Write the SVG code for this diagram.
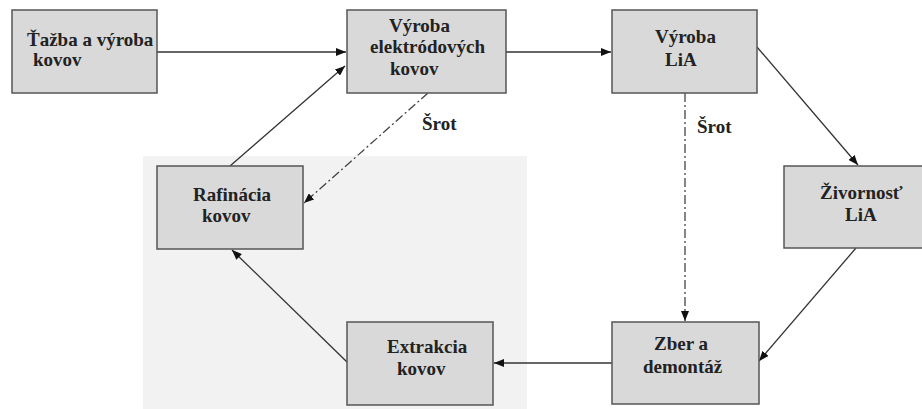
<svg xmlns="http://www.w3.org/2000/svg" width="922" height="409" viewBox="0 0 922 409">
<defs>
<marker id="ah" viewBox="0 0 10 8" refX="10" refY="4" markerWidth="10" markerHeight="8" markerUnits="userSpaceOnUse" orient="auto">
<path d="M0,0 L10,4 L0,8 Z" fill="#111"/>
</marker>
</defs>
<style>
.box{fill:#d9d9d9;stroke:#555;stroke-width:1.5}
.t{font-weight:bold;font-size:19px;fill:#222}
.c{fill:none;stroke:#333;stroke-width:1.3;marker-end:url(#ah)}
.d{fill:none;stroke:#444;stroke-width:1.3;stroke-dasharray:9,3,2,3;marker-end:url(#ah)}
</style>
<rect width="922" height="409" fill="#ffffff"/>
<rect x="143" y="156" width="384" height="253" fill="#f2f2f2"/>
<g id="connectors">
<line class="c" x1="157" y1="52" x2="346" y2="52"/>
<line class="c" x1="230" y1="166" x2="345" y2="66"/>
<line class="c" x1="506" y1="52" x2="611" y2="52"/>
<line class="c" x1="757" y1="47" x2="858" y2="165"/>
<line class="c" x1="856" y1="248" x2="759" y2="361"/>
<line class="c" x1="612" y1="363" x2="494" y2="363"/>
<line class="c" x1="347" y1="362" x2="232" y2="250"/>
<line class="d" x1="428" y1="93" x2="304" y2="203"/>
<line class="d" x1="685" y1="93" x2="685" y2="321"/>
</g>
<g font-family="'Liberation Serif', 'Times New Roman', 'DejaVu Serif', serif">
<text class="t" x="422" y="130">Šrot</text>
<text class="t" x="697" y="133">Šrot</text>
<g id="tazba">
<rect class="box" x="12" y="10" width="145" height="83"/>
<text class="t" x="27" y="46">Ťažba a výroba</text>
<text class="t" x="33" y="66">kovov</text>
</g>
<g id="elektrodove">
<rect class="box" x="347" y="10" width="159" height="83"/>
<text class="t" x="389" y="32">Výroba</text>
<text class="t" x="370" y="53">elektródových</text>
<text class="t" x="390" y="75">kovov</text>
</g>
<g id="vyrobaLiA">
<rect class="box" x="612" y="10" width="145" height="83"/>
<text class="t" x="655" y="43">Výroba</text>
<text class="t" x="665" y="66">LiA</text>
</g>
<g id="zivotnost">
<rect class="box" x="784" y="166" width="140" height="82"/>
<text class="t" x="820" y="199">Živornosť</text>
<text class="t" x="845" y="221">LiA</text>
</g>
<g id="zber">
<rect class="box" x="612" y="322" width="147" height="82"/>
<text class="t" x="654" y="350">Zber a</text>
<text class="t" x="643" y="373">demontáž</text>
</g>
<g id="extrakcia">
<rect class="box" x="347" y="322" width="146" height="83"/>
<text class="t" x="387" y="353">Extrakcia</text>
<text class="t" x="397" y="375">kovov</text>
</g>
<g id="rafinacia">
<rect class="box" x="157" y="166" width="146" height="83"/>
<text class="t" x="193" y="201">Rafinácia</text>
<text class="t" x="202" y="222">kovov</text>
</g>
</g>
</svg>
